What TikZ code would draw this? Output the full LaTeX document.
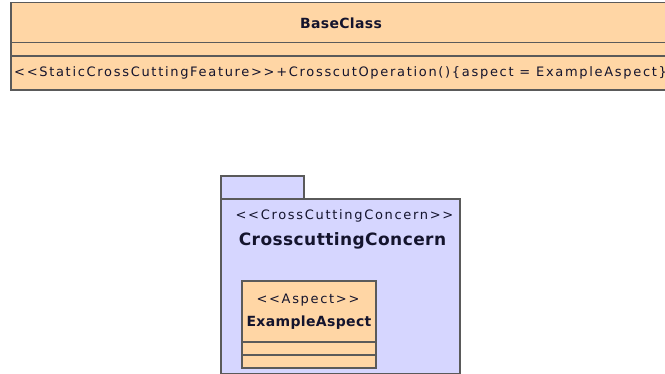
\documentclass[tikz,border=0pt]{standalone}
\usepackage{fontspec}
\setmainfont{DejaVu Sans}
\newfontfamily\umlfont[LetterSpace=13]{DejaVu Sans}
\newfontfamily\umlbold[LetterSpace=2.5]{DejaVu Sans}
\usetikzlibrary{positioning, calc}

\definecolor{classfill}{RGB}{255,214,165}
\definecolor{pkgfill}{RGB}{214,214,255}
\definecolor{umlline}{RGB}{90,90,90}
\definecolor{umltext}{RGB}{20,20,45}

\begin{document}
\begin{tikzpicture}[x=1pt, y=-1pt,
    umlbox/.style={draw=umlline, line width=1.1pt},
    lbl/.style={inner sep=0pt, text=umltext, font=\umlfont\fontsize{13}{15}\selectfont},
    title/.style={lbl, font=\umlbold\bfseries\fontsize{14}{16}\selectfont}]
\clip (0,0) rectangle (665,374);
% Base class, cut off at the right edge
\filldraw[umlbox, fill=classfill] (11,2.5) rectangle (700,90);
\draw[umlbox] (11,42.5) -- (700,42.5);
\draw[umlbox] (11,56) -- (700,56);
\node[title, anchor=base] (base) at (341,28.3) {BaseClass};
\node[lbl, anchor=base west] (crosscut) at (14,77) {<{}<StaticCrossCuttingFeature>{}>+CrosscutOperation()\{aspect = ExampleAspect\}};

% Package with tab
\filldraw[umlbox, fill=pkgfill] (221,176) rectangle (304,199);
\filldraw[umlbox, fill=pkgfill] (221,199) rectangle (460,373.5);
\node[lbl, anchor=base] (pkgstereo) at (344.5,220) {<{}<CrossCuttingConcern>{}>};
\node[title, font=\umlbold\bfseries\fontsize{17}{19}\selectfont, anchor=base] (concern) at (342.5,246) {CrosscuttingConcern};

% Aspect class inside the package
\filldraw[umlbox, fill=classfill] (242,281) rectangle (376,368);
\draw[umlbox] (242,342) -- (376,342);
\draw[umlbox] (242,355) -- (376,355);
\node[lbl, anchor=base] (aspstereo) at (308,304) {<{}<Aspect>{}>};
\node[title, anchor=base] (aspect) at (309,327) {ExampleAspect};
\end{tikzpicture}
\end{document}
